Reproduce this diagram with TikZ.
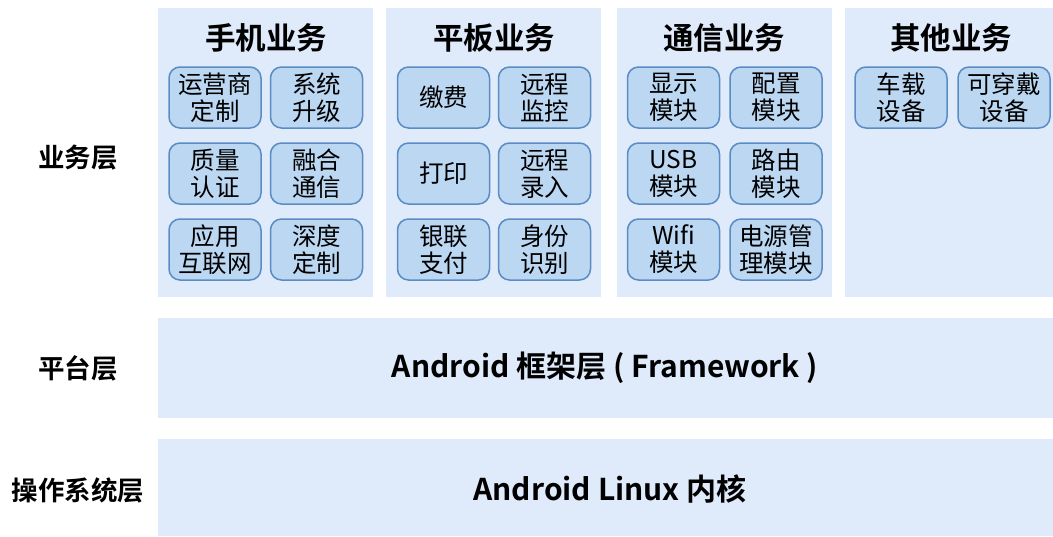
\documentclass[tikz,border=0pt]{standalone}
\usepackage{fontspec}
\setmainfont{Noto Sans CJK SC}
\newfontfamily\cjkb{Noto Sans CJK SC Bold}
\definecolor{panelbg}{HTML}{DFEBFB}
\definecolor{boxfill}{HTML}{BCD7F2}
\definecolor{boxline}{HTML}{5A8CC4}
\tikzset{
  panel/.style={fill=panelbg, draw=none},
  sbox/.style={draw=boxline, line width=1.5pt, fill=boxfill, rounded corners=11pt, minimum width=92pt, minimum height=61pt, inner sep=0pt, align=center, font=\fontsize{24.5}{27}\selectfont},
  ptitle/.style={font=\cjkb\fontsize{30.5}{33}\selectfont},
  lab/.style={font=\cjkb\fontsize{26.5}{29}\selectfont},
  bartext/.style={font=\cjkb\fontsize{30}{33}\selectfont}
}
\begin{document}
\begin{tikzpicture}[x=1pt,y=-1pt]
\useasboundingbox (0,0) rectangle (1053,536);
% panels
\fill[panel] (158,8) rectangle (373,297);
\fill[panel] (386,8) rectangle (601,297);
\fill[panel] (617,8) rectangle (832,297);
\fill[panel] (845,8) rectangle (1053,297);
\fill[panel] (158,318) rectangle (1053,418);
\fill[panel] (158,439) rectangle (1053,536);
% left labels
\node[lab] (l1) at (78,158) {业务层};
\node[lab] (l2) at (78,368) {平台层};
\node[lab] (l3) at (78,490) {操作系统层};
% bar texts
\node[bartext] (fw) at (605,368) {Android 框架层 ( Framework )};
\node[bartext] (kn) at (610,489) {Android Linux 内核};
% titles
\node[ptitle] (t1) at (266,38) {手机业务};
\node[ptitle] (t2) at (494,38) {平板业务};
\node[ptitle] (t3) at (724,38) {通信业务};
\node[ptitle] (t4) at (951,38) {其他业务};
% panel 1
\node[sbox] (a1) at (215,97.5) {运营商\\定制};
\node[sbox] (a2) at (316.5,97.5) {系统\\升级};
\node[sbox] (a3) at (215,173.5) {质量\\认证};
\node[sbox] (a4) at (316.5,173.5) {融合\\通信};
\node[sbox] (a5) at (215,249.5) {应用\\互联网};
\node[sbox] (a6) at (316.5,249.5) {深度\\定制};
% panel 2
\node[sbox] (b1) at (443.5,97.5) {缴费};
\node[sbox] (b2) at (544.5,97.5) {远程\\监控};
\node[sbox] (b3) at (443.5,173.5) {打印};
\node[sbox] (b4) at (544.5,173.5) {远程\\录入};
\node[sbox] (b5) at (443.5,249.5) {银联\\支付};
\node[sbox] (b6) at (544.5,249.5) {身份\\识别};
% panel 3
\node[sbox] (c1) at (673.5,97.5) {显示\\模块};
\node[sbox] (c2) at (776,97.5) {配置\\模块};
\node[sbox] (c3) at (673.5,173.5) {USB\\模块};
\node[sbox] (c4) at (776,173.5) {路由\\模块};
\node[sbox] (c5) at (673.5,249.5) {Wifi\\模块};
\node[sbox] (c6) at (776,249.5) {电源管\\理模块};
% panel 4
\node[sbox] (d1) at (901,97.5) {车载\\设备};
\node[sbox] (d2) at (1004,97.5) {可穿戴\\设备};
\end{tikzpicture}
\end{document}
